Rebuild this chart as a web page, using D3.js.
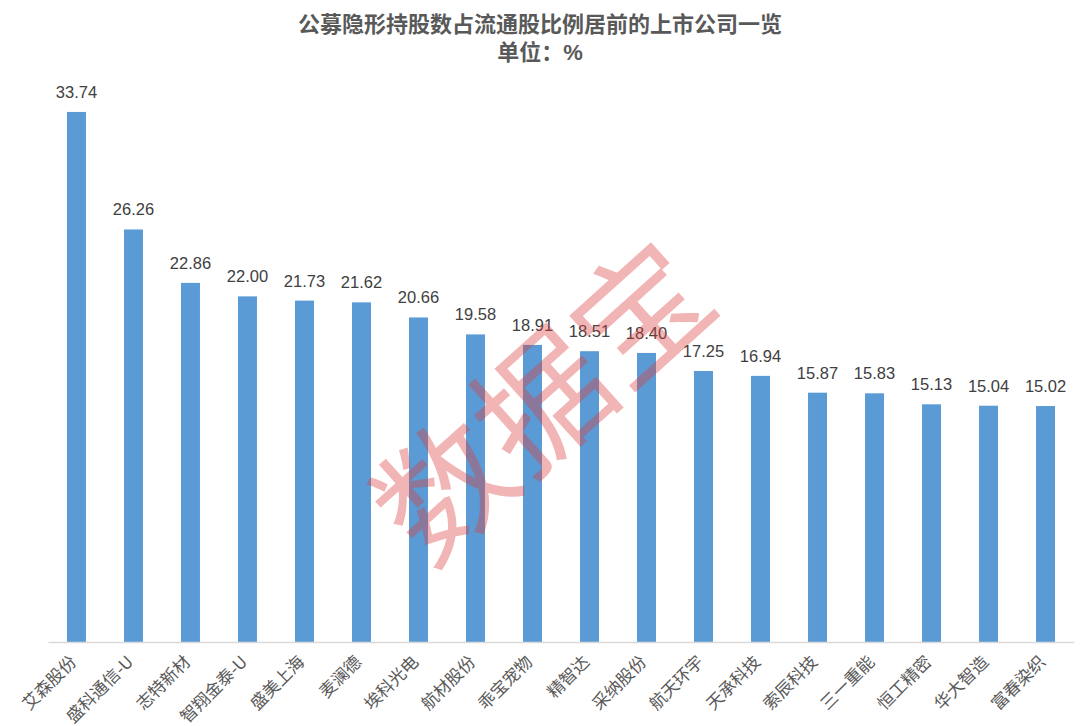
<!DOCTYPE html>
<html>
<head>
	<meta charset="utf-8">
	<title>公募隐形持股</title>
	<style>
	body { margin: 0; background: #fff; }
	.title {
		font-family: "Liberation Sans", "Noto Sans CJK SC", sans-serif;
		font-size: 22px;
		font-weight: bold;
		fill: #595959;
		text-anchor: middle;
	}
	.valtext {
		font-family: "Liberation Sans", "Noto Sans CJK SC", sans-serif;
		font-size: 16.5px;
		fill: #404040;
		text-anchor: middle;
	}
	.cattext {
		font-family: "Noto Sans CJK SC", sans-serif;
		font-size: 17px;
		fill: #595959;
	}
	.mark {
		font-family: "Noto Sans CJK SC", sans-serif;
		font-size: 132px;
		fill: #dc3c3c;
		fill-opacity: 0.38;
	}
	</style>
	<script src="https://d3js.org/d3.v7.min.js"></script>
</head>
<body>
	<script type="text/javascript">
		var svgWidth = 1080;
		var svgHeight = 726;

		// 数据
		var names = ['艾森股份', '盛科通信-U', '志特新材', '智翔金泰-U', '盛美上海', '麦澜德', '埃科光电',
			'航材股份', '乖宝宠物', '精智达', '采纳股份', '航天环宇', '天承科技', '索辰科技',
			'三一重能', '恒工精密', '华大智造', '富春染织'];
		var values = [33.74, 26.26, 22.86, 22.00, 21.73, 21.62, 20.66, 19.58, 18.91, 18.51,
			18.40, 17.25, 16.94, 15.87, 15.83, 15.13, 15.04, 15.02];
		var titleLines = ['公募隐形持股数占流通股比例居前的上市公司一览', '单位：%'];

		var baseY = 642;

		var svg = d3.select('body').append('svg')
			.attr('width', svgWidth)
			.attr('height', svgHeight);

		var x = d3.scaleBand()
			.domain(names)
			.range([48, 1074])
			.paddingInner(0.667)
			.paddingOuter(0.333);

		var y = d3.scaleLinear()
			.domain([0, 40])
			.range([baseY, baseY - 40 * 15.71]);

		// 标题
		svg.selectAll('.title')
			.data(titleLines)
			.enter()
			.append('text')
			.attr('class', 'title')
			.attr('x', svgWidth / 2)
			.attr('y', function (d, i) { return 32 + i * 28; })
			.text(function (d) { return d; });

		// 柱子
		svg.selectAll('rect.bar')
			.data(values)
			.enter()
			.append('rect')
			.attr('class', 'bar')
			.attr('x', function (d, i) { return x(names[i]); })
			.attr('y', function (d) { return y(d); })
			.attr('width', x.bandwidth())
			.attr('height', function (d) { return baseY - y(d); })
			.attr('fill', '#5b9bd5');

		// 数值
		svg.selectAll('.valtext')
			.data(values)
			.enter()
			.append('text')
			.attr('class', 'valtext')
			.attr('x', function (d, i) { return x(names[i]) + x.bandwidth() / 2; })
			.attr('y', function (d) { return y(d) - 14; })
			.text(function (d) { return d.toFixed(2); });

		// 坐标轴
		var axis = svg.append('g')
			.attr('transform', 'translate(0,' + baseY + ')')
			.call(d3.axisBottom(x).tickSize(0).tickPadding(0));
		axis.select('.domain').attr('stroke', '#d9d9d9').attr('stroke-width', 1.5);
		axis.selectAll('.tick text')
			.attr('class', 'cattext')
			.attr('text-anchor', 'end')
			.attr('dy', null)
			.attr('transform', 'translate(1,21) rotate(-45)');

		// 水印
		svg.append('text')
			.attr('class', 'mark')
			.attr('transform', 'translate(428,570) rotate(-42)')
			.text('数据宝');
	</script>
</body>
</html>
